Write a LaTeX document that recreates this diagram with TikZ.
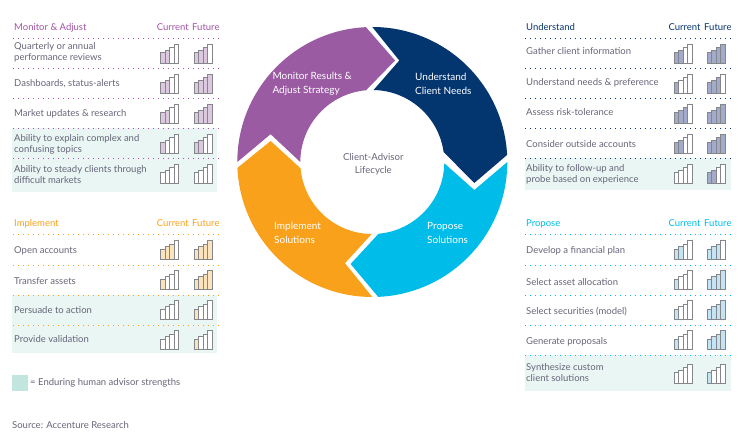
\documentclass[tikz,border=0pt]{standalone}
\usepackage{fontspec}
\setmainfont{Lato}
\usetikzlibrary{calc}
\definecolor{navy}{HTML}{03356F}
\definecolor{sky}{HTML}{00BCE8}
\definecolor{amber}{HTML}{F9A11B}
\definecolor{plum}{HTML}{9A5BA3}
\definecolor{plumhead}{HTML}{A652A8}
\definecolor{plumtint}{HTML}{DCC8DF}
\definecolor{ambertint}{HTML}{FBE3BC}
\definecolor{navytint}{HTML}{A3ABCB}
\definecolor{skytint}{HTML}{C5E4F3}
\definecolor{inktext}{HTML}{66667A}
\definecolor{mint}{HTML}{EAF6F3}
\definecolor{mintkey}{HTML}{C2E5DE}
\definecolor{barline}{HTML}{85858C}
\tikzset{
	rowlabel/.style={anchor=west, inner sep=0pt, align=left, font=\fontsize{9.5}{11}\selectfont, text=inktext},
	headlabel/.style={anchor=base west, inner sep=0pt, font=\fontsize{9.5}{11}\selectfont},
	wheellabel/.style={anchor=west, inner sep=0pt, align=left, text=white, font=\fontsize{10}{14}\selectfont},
	dotline/.style={line width=0.9pt, dash pattern=on 0.9pt off 4.1pt},
	bar/.style={draw=barline, line width=1pt},
}
\begin{document}
\begin{tikzpicture}[x=1pt, y=1pt]
\useasboundingbox (0, 0) rectangle (744, 441);
\coordinate (c) at (372.3, 279);
\def\R{135}
\def\r{72}

% {colour}{outer from}{outer to}{tip}{inner from}{inner to}{notch}
\def\drawarrow#1#2#3#4#5#6#7{%
	\fill[#1] ($(c)+(#2:\R)$) arc (#2:#3:\R) -- ($(c)+#4$) -- ($(c)+(#5:\r)$) arc (#5:#6:\r) -- ($(c)+#7$) -- cycle;
}
\drawarrow{navy}{90}{3}{(102,-21)}{8}{89}{(27,101.5)}
\drawarrow{sky}{0}{-87.5}{(-21.7,-102)}{-85}{-1}{(102,-28)}
\drawarrow{amber}{-90}{-177.5}{(-101.7,21)}{-175}{-90.5}{(-27.3,-101.2)}
\drawarrow{plum}{180}{92.7}{(22.7,101.5)}{95}{180}{(-101.7,27.8)}

\begin{scope}[shift={(0,441)}, y=-1pt]
\node[wheellabel] (wmonitor) at (272.3, 84) {Monitor Results \&\\Adjust Strategy};
\node[wheellabel] (wunderstand) at (415, 84) {Understand\\Client Needs};
\node[wheellabel] (wimplement) at (274, 233.3) {Implement\\Solutions};
\node[wheellabel] (wpropose) at (427, 233.3) {Propose\\Solutions};
\node[rowlabel, anchor=center, align=center, font=\fontsize{9.6}{13}\selectfont] (wcentre) at (373.3, 163.8) {Client-Advisor\\Lifecycle};

% {x}{base}{filled bars}{tint}
\def\drawbars#1#2#3#4{%
	\foreach \i/\h in {0/10.7, 1/13, 2/15.7, 3/19} {
		\ifnum\i<#3 \def\barfill{#4}\else \def\barfill{white}\fi
		\draw[bar, fill=\barfill] (#1+\i*4.5, #2) rectangle ++(4.5, -\h);
	}
}
% {text x}{current x}{future x}{tint}{rows}
\def\drawrows#1#2#3#4#5{%
	\foreach \nm/\y/\lab/\base/\cur/\fut in {#5} {
		\node[rowlabel] (\nm) at (#1, \y) {\lab};
		\drawbars{#2}{\base}{\cur}{#4}
		\drawbars{#3}{\base}{\fut}{#4}
	}
}
% {colour}{text x}{current x}{future x}{first line y}{header}{name}
\def\drawhead#1#2#3#4#5#6#7{%
	\node[headlabel, text=#1] (#7head) at (#2, #5-7.3) {#6};
	\node[headlabel, text=#1] (#7cur) at (#3, #5-7.3) {Current};
	\node[headlabel, text=#1] (#7fut) at (#4, #5-7.3) {Future};
}
\def\drawdots#1#2#3#4{% {colour}{from x}{to x}{lines y}
	\foreach \y in {#4}
		\draw[dotline, #1] (#2, \y) -- (#3, \y);
}

% strengths that stay with the advisor
\fill[mint] (12, 128.3) rectangle (217, 192.3);
\fill[mint] (12, 295) rectangle (217, 353);
\fill[mint] (525, 158.3) rectangle (731, 190);
\fill[mint] (525, 355) rectangle (731, 391);

\drawhead{plumhead}{14}{156.7}{192}{38}{Monitor \& Adjust}{mon}
\drawdots{plumhead}{13}{219}{38, 68.3, 98.3, 128.3, 158.3}
\drawrows{14}{160.7}{194.3}{plumtint}{
	mon1/52.8/{Quarterly or annual\\performance reviews}/63.3/2/3,
	mon2/83.7/{Dashboards, status-alerts}/93.3/2/4,
	mon3/113.7/{Market updates \& research}/123.3/2/4,
	mon4/144.3/{Ability to explain complex and\\confusing topics}/153.3/1/2,
	mon5/174.3/{Ability to steady clients through\\difficult markets}/183.3/0/0}

\drawhead{amber}{14}{156.7}{192}{234.3}{Implement}{imp}
\drawdots{amber}{13}{219}{234.3, 265, 295, 325}
\drawrows{14}{160.7}{194.3}{ambertint}{
	imp1/250.7/{Open accounts}/260/3/4,
	imp2/280.7/{Transfer assets}/290/1/4,
	imp3/309.7/{Persuade to action}/320/0/1,
	imp4/338.7/{Provide validation}/350/0/1}

\drawhead{navy}{526}{668.3}{704}{38}{Understand}{und}
\drawdots{navy}{525}{731}{38, 68.3, 98.3, 128.3, 158.3}
\drawrows{526}{674}{707.3}{navytint}{
	und1/51.3/{Gather client information}/63.3/2/4,
	und2/82.7/{Understand needs \& preference}/93.3/1/3,
	und3/112.3/{Assess risk-tolerance}/123.3/3/4,
	und4/143.7/{Consider outside accounts}/153.3/2/4,
	und5/174.2/{Ability to follow-up and\\probe based on experience}/183.3/0/2}

\drawhead{sky}{526}{668.3}{704}{234.3}{Propose}{pro}
\drawdots{sky}{525}{731}{234.3, 265, 295, 325, 355}
\drawrows{526}{674}{707.3}{skytint}{
	pro1/250.7/{Develop a financial plan}/260/2/3,
	pro2/281.7/{Select asset allocation}/290/1/4,
	pro3/311.7/{Select securities (model)}/320/1/4,
	pro4/341.7/{Generate proposals}/350/1/4,
	pro5/372.2/{Synthesize custom\\client solutions}/383.3/0/1}

\fill[mintkey] (12, 375) rectangle (28, 390.7);
\node[rowlabel] (keytext) at (30, 383) {= Enduring human advisor strengths};
\node[rowlabel] (source) at (12, 425) {Source: Accenture Research};
\end{scope}
\end{tikzpicture}
\end{document}
